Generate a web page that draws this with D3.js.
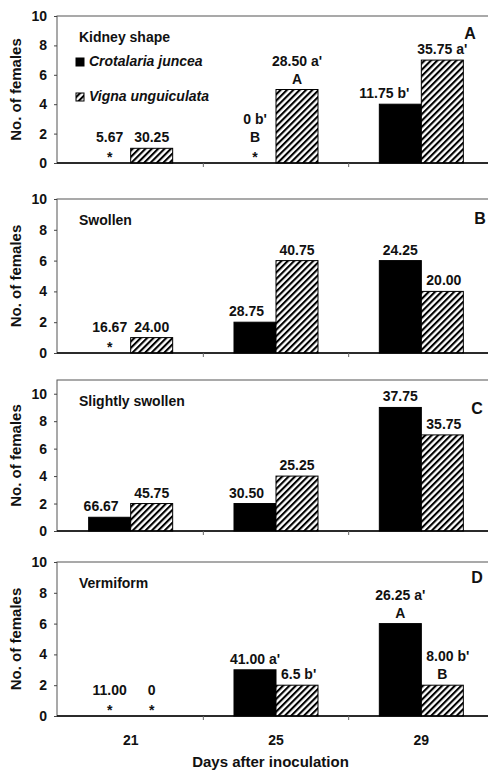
<!DOCTYPE html>
<html>
<head>
<meta charset="utf-8">
<script src="https://cdn.jsdelivr.net/npm/d3@7"></script>
<style>
  body { margin: 0; background: #fff; }
  svg text { font-family: "Liberation Sans", Arial, sans-serif; font-weight: bold; fill: #111; }
</style>
</head>
<body>
<div id="chart"></div>
<script>
// data
var days = ["21", "25", "29"];
var species = ["Crotalaria juncea", "Vigna unguiculata"];
var panelTitles = ["Kidney shape", "Swollen", "Slightly swollen", "Vermiform"];
var panelLetters = ["A", "B", "C", "D"];
var yMax = [10, 10, 11, 10];
var yTicks = [0, 2, 4, 6, 8, 10];

var crotalaria = [[0, 0, 4], [0, 2, 6], [1, 2, 9], [0, 3, 6]];
var vigna = [[1, 5, 7], [1, 6, 4], [2, 4, 7], [0, 2, 2]];

// label lines, top to bottom, sitting above each bar
var crotLabels = [
    [["5.67", "*"], ["0 b'", "B", "*"], ["11.75 b'"]],
    [["16.67", "*"], ["28.75"], ["24.25"]],
    [["66.67"], ["30.50"], ["37.75"]],
    [["11.00", "*"], ["41.00 a'"], ["26.25 a'", "A"]]
];
var vignaLabels = [
    [["30.25"], ["28.50 a'", "A"], ["35.75 a'"]],
    [["24.00"], ["40.75"], ["20.00"]],
    [["45.75"], ["25.25"], ["35.75"]],
    [["0", "*"], ["6.5 b'"], ["8.00 b'", "B"]]
];

// layout
var W = 488, H = 771;
var left = 57, right = 494;
var panelTop = [16, 199, 380, 562];
var panelZero = [163, 353, 531, 716];
var letterPos = [[470, 39], [480, 224], [477, 414], [477, 583]];

var svg = d3.select("#chart").append("svg")
        .attr("width", W)
        .attr("height", H);

var defs = svg.append("defs");
var pat = defs.append("pattern")
        .attr("id", "hatch")
        .attr("patternUnits", "userSpaceOnUse")
        .attr("width", 4.5)
        .attr("height", 4.5)
        .attr("patternTransform", "rotate(45)");
pat.append("rect").attr("width", 4.5).attr("height", 4.5).attr("fill", "#fff");
pat.append("line")
        .attr("x1", 1).attr("y1", 0).attr("x2", 1).attr("y2", 4.5)
        .attr("stroke", "#000").attr("stroke-width", 2.2);

var x = d3.scaleBand().domain(days).range([left + 1, right]);
var xs = d3.scaleBand().domain([0, 1]).range([0, x.bandwidth()]).paddingOuter(0.73);

var fills = ["#000", "url(#hatch)"];

panelTitles.forEach(function (title, p) {
    var y = d3.scaleLinear()
            .domain([0, yMax[p]])
            .range([panelZero[p], panelTop[p]]);

    var g = svg.append("g").attr("class", "panel");

    // frame
    g.append("rect")
            .attr("x", left)
            .attr("y", panelTop[p])
            .attr("width", right - left)
            .attr("height", panelZero[p] - panelTop[p])
            .attr("fill", "none")
            .attr("stroke", "#555")
            .attr("stroke-width", 1);

    // y axis
    var ya = g.append("g")
            .attr("transform", "translate(" + left + ",0)")
            .call(d3.axisLeft(y).tickValues(yTicks).tickSize(3).tickFormat(d3.format("d")));
    ya.select(".domain").remove();
    ya.selectAll("line").attr("stroke", "#444");
    ya.selectAll("text")
            .attr("x", -10)
            .style("font-size", "14px")
            .style("font-family", "Liberation Sans, Arial, sans-serif");

    g.append("text")
            .attr("transform", "rotate(-90)")
            .attr("x", -(panelTop[p] + panelZero[p]) / 2)
            .attr("y", 21)
            .style("text-anchor", "middle")
            .style("font-size", "15px")
            .text("No. of females");

    // bars
    var series = [crotalaria[p], vigna[p]];
    var labels = [crotLabels[p], vignaLabels[p]];
    series.forEach(function (vals, s) {
        g.selectAll(".bar" + s)
                .data(vals)
                .enter().append("rect")
                .attr("class", "bar" + s)
                .attr("x", function (d, i) { return x(days[i]) + xs(s); })
                .attr("y", function (d) { return y(d); })
                .attr("width", xs.bandwidth())
                .attr("height", function (d) { return y(0) - y(d); })
                .attr("fill", fills[s])
                .attr("stroke", "#000")
                .attr("stroke-width", 1);
    });

    series.forEach(function (vals, s) {
        var other = series[1 - s];
        vals.forEach(function (v, i) {
            var lines = labels[s][i];
            var bx = x(days[i]) + xs(s);
            var bw = xs.bandwidth();
            var cx = bx + bw / 2;
            var base = y(v) - 6;
            var otherTop = y(other[i]);
            for (var k = lines.length - 1; k >= 0; k--) {
                var yy;
                if (lines[k] === "*") {
                    yy = y(0) - 1;
                    base = y(0) - 21;
                } else {
                    yy = base;
                    base -= 18;
                }
                var t = g.append("text")
                        .attr("x", cx)
                        .attr("y", yy)
                        .style("text-anchor", "middle")
                        .style("font-size", "14px")
                        .text(lines[k]);
                // keep labels clear of a taller neighbouring bar
                var half = t.node().getComputedTextLength() / 2;
                if (yy > otherTop && half > bw / 2 - 5) {
                    if (s === 0) {
                        t.attr("x", bx + bw - 12).style("text-anchor", "end");
                    } else {
                        t.attr("x", bx + 5).style("text-anchor", "start");
                    }
                }
            }
        });
    });

    // x axis
    g.append("line")
            .attr("x1", left).attr("x2", right)
            .attr("y1", y(0)).attr("y2", y(0))
            .attr("stroke", "#000").attr("stroke-width", 1.5);
    g.selectAll(".xtick")
            .data(days.slice(1))
            .enter().append("line")
            .attr("class", "xtick")
            .attr("x1", function (d) { return x(d); })
            .attr("x2", function (d) { return x(d); })
            .attr("y1", y(0))
            .attr("y2", y(0) + 4)
            .attr("stroke", "#666");

    // panel title and letter
    g.append("text")
            .attr("x", 79)
            .attr("y", panelTop[p] + 26)
            .style("font-size", "14px")
            .text(title);
    g.append("text")
            .attr("x", letterPos[p][0])
            .attr("y", letterPos[p][1])
            .style("text-anchor", "middle")
            .style("font-size", "16px")
            .text(panelLetters[p]);

    if (p === 0) {
        var leg = g.append("g");
        species.forEach(function (name, s) {
            var ly = 66 + s * 35;
            leg.append("rect")
                    .attr("x", 76).attr("y", ly - 8)
                    .attr("width", 8).attr("height", 8)
                    .attr("fill", fills[s])
                    .attr("stroke", "#000");
            leg.append("text")
                    .attr("x", 89).attr("y", ly)
                    .style("font-size", "14px")
                    .style("font-style", "italic")
                    .text(name);
        });
    }

    if (p === panelTitles.length - 1) {
        g.selectAll(".xlabel")
                .data(days)
                .enter().append("text")
                .attr("class", "xlabel")
                .attr("x", function (d) { return x(d) + x.bandwidth() / 2; })
                .attr("y", 745)
                .style("text-anchor", "middle")
                .style("font-size", "14px")
                .text(function (d) { return d; });
        g.append("text")
                .attr("x", (left + right) / 2 - 5)
                .attr("y", 767)
                .style("text-anchor", "middle")
                .style("font-size", "15px")
                .text("Days after inoculation");
    }
});
</script>
</body>
</html>
